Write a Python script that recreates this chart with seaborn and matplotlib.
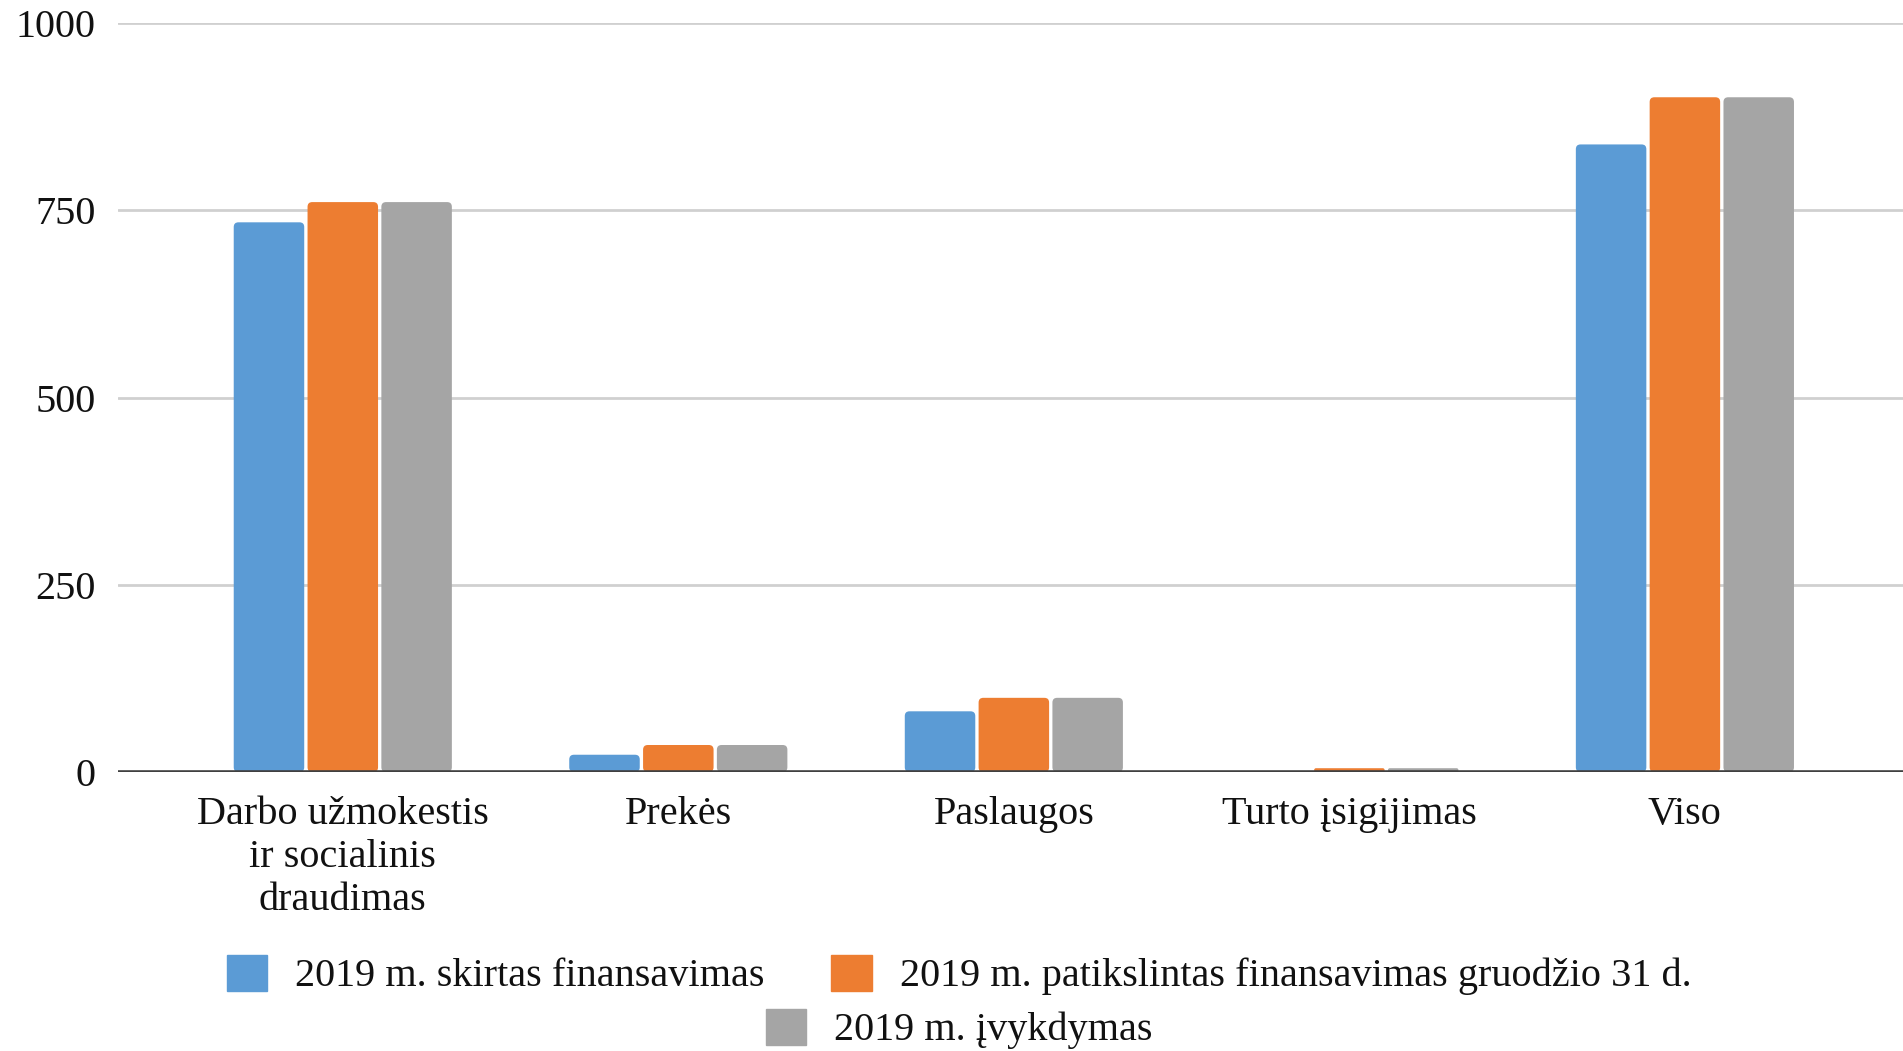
import pandas as pd
import matplotlib.pyplot as plt
import seaborn as sns
from matplotlib.patches import Patch, FancyBboxPatch

# Values (thousand EUR)
categories = ['Darbo užmokestis\nir socialinis\ndraudimas', 'Prekės', 'Paslaugos',
              'Turto įsigijimas', 'Viso']
series_names = ['2019 m. skirtas finansavimas',
                '2019 m. patikslintas finansavimas gruodžio 31 d.',
                '2019 m. įvykdymas']
skirtas = [734, 23, 81, 0, 838]
patikslintas = [761, 36, 99, 5, 901]
ivykdymas = [761, 36, 99, 5, 901]
colors = ['#5B9BD5', '#ED7D31', '#A5A5A5']

df = pd.DataFrame({
    'kategorija': categories * 3,
    'serija': [series_names[0]] * 5 + [series_names[1]] * 5 + [series_names[2]] * 5,
    'reiksme': skirtas + patikslintas + ivykdymas,
})

sns.set_theme(style='white')
plt.rcParams['font.family'] = ['Liberation Serif', 'DejaVu Serif']

fig = plt.figure(figsize=(19.03, 10.51), dpi=100)
ax = fig.add_axes([0.062, 0.2655, 0.938, 0.7125])

sns.barplot(data=df, x='kategorija', y='reiksme', hue='serija', palette=colors,
            width=0.66, gap=0.045, legend=False, ax=ax, saturation=1)

ax.set_ylim(0, 1000)
ax.set_xlim(-0.67, 4.65)

# slightly rounded bar corners like the original office chart
aspect = 1000 / 749 * 336  # y-data units per x-data unit in pixels
for bar in list(ax.patches):
    x, y = bar.get_x(), bar.get_y()
    w, h = bar.get_width(), bar.get_height()
    if h <= 0:
        bar.remove()
        continue
    r = min(0.014, h / aspect / 2)
    fb = FancyBboxPatch((x, y), w, h, boxstyle=f'round,pad=0,rounding_size={r}',
                        mutation_aspect=aspect, facecolor=bar.get_facecolor(),
                        edgecolor='none', zorder=bar.get_zorder())
    bar.remove()
    ax.add_patch(fb)

ax.set_yticks([0, 250, 500, 750, 1000])
ax.yaxis.grid(True, color='#D0D0D0', lw=2.0)
ax.set_axisbelow(True)
ax.axhline(0, color='#404040', lw=2.6, zorder=5)
for s in ax.spines.values():
    s.set_visible(False)
ax.set_xlabel('')
ax.set_ylabel('')
ax.tick_params(axis='y', length=0, pad=16, labelsize=29, labelcolor='#111111')
ax.tick_params(axis='x', length=0, pad=17, labelsize=29, labelcolor='#111111')
for lab in ax.get_xticklabels():
    lab.set_linespacing(1.22)
    lab.set_verticalalignment('top')

handles = [Patch(facecolor=c, edgecolor=c) for c in colors]
leg_kw = dict(frameon=False, fontsize=29, handlelength=1.0, handleheight=1.0,
              handletextpad=0.7, columnspacing=1.65, borderpad=0, labelcolor='#111111')
fig.legend(handles[:2], series_names[:2], ncol=2, loc='center',
           bbox_to_anchor=(0.504, 0.0723), **leg_kw)
fig.legend(handles[2:], series_names[2:], ncol=1, loc='center',
           bbox_to_anchor=(0.504, 0.021), **leg_kw)

fig.savefig('out.png', dpi=100)
